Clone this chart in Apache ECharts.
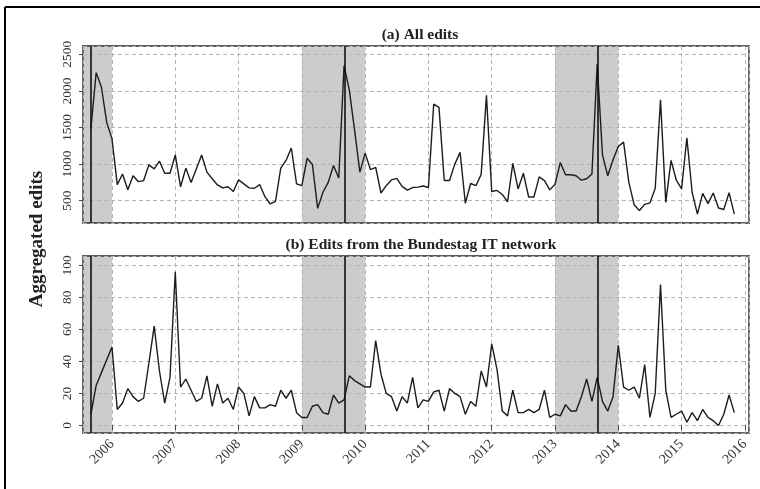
<!DOCTYPE html>
<html>
<head>
<meta charset="utf-8">
<script src="https://cdn.jsdelivr.net/npm/echarts@6/dist/echarts.min.js"></script>
<style>
  html, body { margin: 0; padding: 0; background: #ffffff; }
  #chart { width: 760px; height: 489px; }
</style>
</head>
<body>
<div id="chart"></div>
<script>
// Monthly series, September 2005 to November 2015
const startYear = 2005;
const startMonth = 9;

const allEdits = [
  1480, 2250, 2050, 1570, 1345, 720, 865, 650, 840, 760, 775, 990,
  935, 1040, 875, 875, 1125, 690, 945, 750, 935, 1125, 890, 800,
  715, 675, 690, 625, 785, 730, 675, 670, 720, 555, 455, 490,
  945, 1050, 1220, 730, 705, 1080, 995, 395, 615, 750, 980, 810,
  2345, 2010, 1460, 890, 1150, 925, 955, 605, 705, 785, 805, 695,
  645, 680, 685, 700, 680, 1820, 1775, 775, 775, 1000, 1160, 465,
  735, 705, 860, 1940, 625, 640, 585, 485, 1010, 660, 875, 550,
  550, 825, 775, 648, 725, 1020, 855, 855, 840, 780, 800, 865,
  2370, 1125, 840, 1060, 1240, 1300, 750, 445, 365, 450, 470, 670,
  1880, 477, 1050, 780, 660, 1358, 615, 317, 600, 460, 605, 400,
  380, 610, 317
];

const bundestagEdits = [
  7, 25, 33, 41, 49, 10, 14, 23, 18, 15, 17, 39,
  62, 34, 14, 30, 96, 24, 29, 22, 15, 17, 31, 12,
  26, 14, 17, 10, 24, 20, 6, 18, 11, 11, 13, 12,
  22, 17, 22, 8, 5, 5, 12, 13, 8, 7, 19, 14,
  16, 31, 28, 26, 24, 24, 53, 32, 20, 18, 9, 18,
  14, 30, 11, 16, 15, 21, 22, 9, 23, 20, 18, 7,
  15, 12, 34, 24, 51, 35, 9, 6, 22, 8, 8, 10,
  8, 10, 22, 5, 7, 6, 13, 9, 9, 18, 29, 15,
  30, 15, 9, 18, 50, 24, 22, 24, 17, 38, 5, 20,
  88, 22, 5, 7, 9, 2, 8, 3, 10, 5, 3, 0,
  7, 19, 8
];

// Federal election months and the shaded election years
const electionMonths = ['2005-09', '2009-09', '2013-09'];
const electionYears = [2005, 2009, 2013];

const panelTitles = ['(a) All edits', '(b) Edits from the Bundestag IT network'];
const yAxisTitle = 'Aggregated edits';

// helpers: month index -> decimal year
function monthToYear(i) {
  return startYear + (startMonth - 1 + i) / 12;
}
function ymToYear(s) {
  const p = s.split('-');
  return +p[0] + (+p[1] - 1) / 12;
}

const X_MIN = 2005.542, X_MAX = 2016.065;
const FONT = "'Liberation Serif', 'DejaVu Serif', serif";

function pairs(values) {
  return values.map((v, i) => [monthToYear(i), v]);
}

const shadeData = electionYears.map(y => [
  { xAxis: Math.max(X_MIN, y) }, { xAxis: y + 1 }
]);
const electionLineData = electionMonths.map(m => ({ xAxis: ymToYear(m) }));

const dashed = { color: '#b4b4b4', type: [4, 3], width: 1 };

function xAxisDef(gridIndex, showLabels) {
  return {
    type: 'value', gridIndex, min: X_MIN, max: X_MAX, splitNumber: 10,
    axisLine: { show: false },
    axisTick: { show: showLabels, length: 5, lineStyle: { color: '#444', width: 1 } },
    axisLabel: {
      show: showLabels, rotate: 45, margin: 9, fontFamily: FONT, fontSize: 14,
      color: '#333', showMinLabel: false, showMaxLabel: false,
      formatter: v => String(Math.round(v))
    },
    splitLine: { show: true, lineStyle: dashed }
  };
}

function yAxisDef(gridIndex, min, max) {
  return {
    type: 'value', gridIndex, min, max, splitNumber: 5,
    axisLine: { show: false },
    axisTick: { show: true, length: 4, lineStyle: { color: '#444', width: 1 } },
    axisLabel: {
      rotate: 90, margin: 9, fontFamily: FONT, fontSize: 13.5, color: '#333',
      showMinLabel: false, showMaxLabel: false,
      formatter: v => String(Math.round(v))
    },
    splitLine: { show: true, lineStyle: dashed }
  };
}

function seriesDef(index, values) {
  return {
    type: 'line', xAxisIndex: index, yAxisIndex: index,
    data: pairs(values), showSymbol: false, symbol: 'none',
    lineStyle: { color: '#1c1c1c', width: 1.4 },
    markArea: {
      silent: true, z: -1,
      itemStyle: { color: '#cccccc' },
      data: shadeData
    },
    markLine: {
      silent: true, symbol: 'none', label: { show: false },
      lineStyle: { color: '#111', width: 1.6, type: 'solid' },
      data: electionLineData
    },
    animation: false
  };
}

const chart = echarts.init(document.getElementById('chart'), null, { renderer: 'canvas' });

const titleStyle = { fontFamily: FONT, fontWeight: 'bold', fontSize: 15.5, color: '#222' };

chart.setOption({
  animation: false,
  backgroundColor: '#ffffff',
  title: [
    { text: panelTitles[0], left: 415, top: 22, textAlign: 'center', textStyle: titleStyle },
    { text: panelTitles[1], left: 416, top: 232, textAlign: 'center', textStyle: titleStyle }
  ],
  grid: [
    { left: 83, top: 46, width: 666, height: 177, show: true,
      borderColor: '#5a5a5a', borderWidth: 1.8, backgroundColor: 'transparent' },
    { left: 83, top: 256, width: 666, height: 177, show: true,
      borderColor: '#5a5a5a', borderWidth: 1.8, backgroundColor: 'transparent' }
  ],
  xAxis: [xAxisDef(0, false), xAxisDef(1, true)],
  yAxis: [yAxisDef(0, 195, 2614), yAxisDef(1, -4.7, 105.8)],
  series: [seriesDef(0, allEdits), seriesDef(1, bundestagEdits)],
  graphic: [
    {
      type: 'text', x: 37, y: 239, rotation: Math.PI / 2,
      style: { text: yAxisTitle, fontFamily: FONT, fontWeight: 'bold', fontSize: 19,
               fill: '#222', align: 'center', verticalAlign: 'middle' }
    },
    { type: 'line', shape: { x1: 5, y1: 7, x2: 760, y2: 7 },
      style: { stroke: '#000', lineWidth: 2 } },
    { type: 'line', shape: { x1: 5, y1: 7, x2: 5, y2: 489 },
      style: { stroke: '#000', lineWidth: 2 } }
  ]
});
</script>
</body>
</html>
